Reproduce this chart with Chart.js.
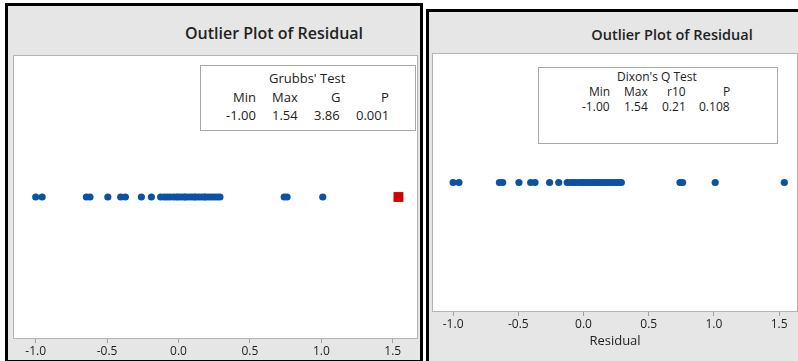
<!DOCTYPE html>
<html>
<head>
<meta charset="utf-8">
<script src="https://cdn.jsdelivr.net/npm/chart.js@4.4.0/dist/chart.umd.min.js"></script>
<style>
  body { margin: 0; width: 798px; height: 361px; overflow: hidden; background: #fff; font-family: "Open Sans", "Noto Sans", sans-serif; color: #222; }
  .panel { position: absolute; background: #e6e6e6; box-sizing: border-box; border: 3px solid #000; }
  .title { position: absolute; transform: translateX(-50%); white-space: nowrap; font-weight: 600; color: #222; }
  .statbox { position: absolute; background: #fff; border: 1px solid #a8a8a8; box-sizing: border-box; }
  .statbox span { position: absolute; white-space: nowrap; line-height: 1; }
  canvas { position: absolute; }
</style>
</head>
<body>
<div class="panel" style="left:5px; top:3px; width:418px; height:360px;"></div>
<div class="panel" style="left:426px; top:9px; width:380px; height:360px; border-right:none; border-bottom:none;"></div>

<div class="title" style="left:274px; top:22px; font-size:16px;">Outlier Plot of Residual</div>
<div class="title" style="left:672px; top:25px; font-size:14.5px;">Outlier Plot of Residual</div>

<canvas id="graficoGrubbs" style="left:13px; top:55px;" width="405" height="306"></canvas>
<canvas id="graficoDixon" style="left:432px; top:53px;" width="366" height="308"></canvas>

<div class="statbox" id="boxGrubbs" style="left:200px; top:65px; width:216px; height:66px;"></div>
<div class="statbox" id="boxDixon" style="left:538px; top:67px; width:240px; height:77px;"></div>

<script>
// Residual values
const residuals = [
  -1.00, -0.955, -0.645, -0.62, -0.495, -0.405, -0.372, -0.26, -0.19,
  -0.125, -0.10, -0.08, -0.06, -0.035, -0.015, 0.00, 0.02, 0.04, 0.05,
  0.07, 0.09, 0.11, 0.12, 0.14, 0.16, 0.18, 0.19, 0.21, 0.23, 0.25,
  0.27, 0.29, 0.74, 0.76, 1.01, 1.54
];
const grubbsOutlier = [1.54];
const xTicks = [-1.0, -0.5, 0.0, 0.5, 1.0, 1.5];

// Test summaries
const grubbsTitle = "Grubbs' Test";
const grubbsLabels = ["Min", "Max", "G", "P"];
const grubbsValues = ["-1.00", "1.54", "3.86", "0.001"];
const dixonTitle = "Dixon's Q Test";
const dixonLabels = ["Min", "Max", "r10", "P"];
const dixonValues = ["-1.00", "1.54", "0.21", "0.108"];

const AZUL = "#0b52a3";
const VERMELHO = "#d40000";

// White plot area with a light grey frame
const fundoPlot = {
  id: "fundoPlot",
  beforeDraw(chart) {
    const a = chart.chartArea;
    const ctx = chart.ctx;
    ctx.save();
    ctx.fillStyle = "#fff";
    ctx.fillRect(a.left, a.top, a.right - a.left, a.bottom - a.top);
    ctx.strokeStyle = "#b4b4b4";
    ctx.lineWidth = 1;
    ctx.strokeRect(a.left + 0.5, a.top + 0.5, a.right - a.left - 1, a.bottom - a.top - 1);
    ctx.restore();
  }
};

function criarGrafico(id, datasets, xMin, xMax, alturaEixo, comTitulo) {
  return new Chart(document.getElementById(id), {
    type: "scatter",
    data: { datasets: datasets },
    options: {
      responsive: false,
      animation: false,
      layout: { padding: 0, autoPadding: false },
      plugins: { legend: { display: false }, tooltip: { enabled: false } },
      scales: {
        x: {
          type: "linear",
          min: xMin,
          max: xMax,
          afterBuildTicks: (scale) => { scale.ticks = xTicks.map(v => ({ value: v })); },
          afterFit: (scale) => { scale.height = alturaEixo; },
          grid: { drawOnChartArea: false, tickLength: 4, color: "#a0a0a0" },
          border: { display: false },
          ticks: {
            padding: 1,
            color: "#222",
            font: { family: "Open Sans", size: 12 },
            maxRotation: 0,
            callback: (v) => v.toFixed(1)
          },
          title: {
            display: comTitulo,
            text: "Residual",
            color: "#222",
            font: { family: "Open Sans", size: 13 },
            padding: { top: 2, bottom: 12 }
          }
        },
        y: { display: false, min: -1, max: 1 }
      }
    },
    plugins: [fundoPlot]
  });
}

function pontos(valores) {
  return valores.map(v => ({ x: v, y: 0 }));
}

// Left: Grubbs' test, the outlier drawn as a red square
criarGrafico("graficoGrubbs", [
  {
    data: pontos(residuals.filter(v => !grubbsOutlier.includes(v))),
    backgroundColor: AZUL, borderWidth: 0, pointRadius: 3.6
  },
  {
    data: pontos(grubbsOutlier),
    backgroundColor: VERMELHO, borderWidth: 0, pointStyle: "rect", pointRadius: 7
  }
], -1.159, 1.677, 22, false);

// Right: Dixon's Q test, no outlier flagged
criarGrafico("graficoDixon", [
  {
    data: pontos(residuals),
    backgroundColor: AZUL, borderWidth: 0, pointRadius: 3.6
  }
], -1.162, 1.645, 49, true);

// Stat boxes as real text
function preencherCaixa(id, titulo, labels, valores, cfg) {
  const box = document.getElementById(id);
  const base = box.getBoundingClientRect();
  const add = (txt, xRight, yMid, center) => {
    const s = document.createElement("span");
    s.textContent = txt;
    s.style.fontSize = cfg.fonte + "px";
    box.appendChild(s);
    const w = s.offsetWidth;
    const h = s.offsetHeight;
    s.style.left = (center ? xRight - w / 2 : xRight - w) - base.left - 1 + "px";
    s.style.top = yMid - h / 2 - base.top - 1 + "px";
  };
  add(titulo, cfg.centroTitulo, cfg.linhas[0], true);
  labels.forEach((t, i) => add(t, cfg.colunas[i], cfg.linhas[1], false));
  valores.forEach((t, i) => add(t, cfg.colunas[i], cfg.linhas[2], false));
}

preencherCaixa("boxGrubbs", grubbsTitle, grubbsLabels, grubbsValues, {
  fonte: 13, centroTitulo: 307, linhas: [78, 97, 115], colunas: [256, 298, 340, 389]
});
preencherCaixa("boxDixon", dixonTitle, dixonLabels, dixonValues, {
  fonte: 12, centroTitulo: 657, linhas: [77, 92, 107], colunas: [610, 648, 686, 730]
});
</script>
</body>
</html>
